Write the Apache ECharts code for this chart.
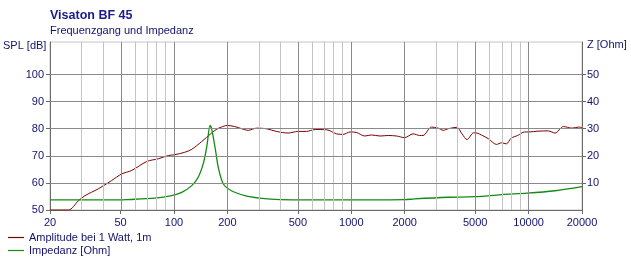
<!DOCTYPE html>
<html>
<head>
<meta charset="utf-8">
<script src="https://cdn.jsdelivr.net/npm/echarts@6/dist/echarts.min.js"></script>
<style>html,body{margin:0;padding:0;background:#fff}#c{width:631px;height:263px}</style>
</head>
<body>
<div id="c"></div>
<script>
// ---- data ----
const freqSPL = [20, 25.4, 28.9, 31.5, 37.4, 44.6, 50.7, 57.8, 70.2, 81.6, 93, 101, 115, 126, 143, 163, 173, 185, 200, 220, 241, 262, 292, 332, 378, 440, 500, 558, 626, 726, 826, 900, 986, 1072, 1192, 1302, 1452, 1616, 1802, 2000, 2230, 2432, 2538, 2834, 3090, 3300, 3526, 3938, 4210, 4496, 4896, 5000, 5560, 5932, 6596, 7026, 7486, 7972, 8672, 9500, 10000, 11300, 12920, 14100, 15720, 17560, 19120, 20000];
const splDb = [50, 50, 53.4, 55.3, 57.8, 60.9, 63.3, 64.6, 67.9, 68.9, 70.1, 70.4, 71.3, 72.4, 75.2, 78.4, 79.7, 80.6, 81.2, 80.8, 80, 79.4, 80.2, 80, 79, 78.4, 79, 79, 79.7, 79.6, 78.1, 77.9, 78.8, 78.6, 77.3, 77.7, 77.3, 77.5, 77.3, 76.7, 78.1, 77.5, 77.5, 80.6, 80.2, 79.4, 80, 80.5, 78.1, 76, 78.5, 78.5, 77.3, 76.3, 74.2, 74.8, 74.4, 76.5, 77.5, 78.8, 78.8, 79.1, 79.2, 78.4, 80.8, 80.2, 80.6, 80.4];
const freqZ = [20, 50, 53, 78, 97, 110.6, 126, 137, 147, 153.5, 159.8, 163, 171, 178.5, 190, 211, 251, 303, 397, 600, 1000, 2000, 2278, 3526, 5000, 7026, 9800, 14100, 20000];
const impedanceOhm = [3.7, 3.7, 3.8, 4.4, 5.3, 6.5, 9.0, 12.1, 17.6, 23.8, 31.2, 30, 22.6, 15.2, 9.6, 7.1, 5.3, 4.4, 3.8, 3.7, 3.7, 3.8, 4.1, 4.7, 4.9, 5.7, 6.2, 7.1, 8.6];
const xTickLabels = [20, 50, 100, 200, 500, 1000, 2000, 5000, 10000, 20000];
const majorGridFreqs = [50, 100, 200, 500, 1000, 2000, 5000, 10000];
const minorGridFreqs = [30, 40, 60, 70, 80, 90, 300, 400, 600, 700, 800, 900, 3000, 4000, 6000, 7000, 8000, 9000];
const splTickLabels = [50, 60, 70, 80, 90, 100];
const zTickLabels = [10, 20, 30, 40, 50];
const majorGridDb = [60, 70, 80, 90, 100];

const NAVY = '#12126e';
const FONT = 'Liberation Sans';
const lg = Math.log10;

const chart = echarts.init(document.getElementById('c'), null, {renderer: 'canvas'});
const vLines = minorGridFreqs.map(f => ({xAxis: lg(f), lineStyle: {color: '#c4c4c4', width: 1, type: 'solid'}}))
  .concat(majorGridFreqs.map(f => ({xAxis: lg(f), lineStyle: {color: '#8a8a8a', width: 1, type: 'solid'}})))
  .concat(majorGridDb.map(v => ({yAxis: v, lineStyle: {color: '#8a8a8a', width: 1, type: 'solid'}})));

chart.setOption({
  animation: false,
  backgroundColor: '#fff',
  textStyle: {fontFamily: FONT},
  title: {
    text: 'Visaton BF 45', subtext: 'Frequenzgang und Impedanz',
    left: 50, top: 9, itemGap: 3, padding: 0,
    textStyle: {fontFamily: FONT, fontSize: 12.5, fontWeight: 'bold', color: '#1a1a8a'},
    subtextStyle: {fontFamily: FONT, fontSize: 11, color: NAVY}
  },
  graphic: [
    {type: 'text', left: 3, top: 40, style: {text: 'SPL [dB]', font: '11px "Liberation Sans"', fill: NAVY}},
    {type: 'text', left: 587, top: 39, style: {text: 'Z [Ohm]', font: '11px "Liberation Sans"', fill: NAVY}}
  ],
  legend: {
    orient: 'vertical', left: 8, top: 232, itemGap: 2, padding: 0,
    icon: 'rect', itemWidth: 16, itemHeight: 1.2,
    textStyle: {fontFamily: FONT, fontSize: 11, color: NAVY, padding: [0, 0, 0, 0]},
    data: ['Amplitude bei 1 Watt, 1m', 'Impedanz [Ohm]']
  },
  grid: {left: 50, right: 49, top: 42, bottom: 53, containLabel: false, outerBoundsMode: 'none',
    show: true, borderColor: '#c4c4c4', borderWidth: 1},
  xAxis: {
    type: 'value', min: lg(20), max: lg(20000),
    splitLine: {show: false},
    axisLine: {show: true, onZero: false, lineStyle: {color: '#6a6a6a'}},
    axisTick: {show: true, length: 4, customValues: xTickLabels.map(lg), lineStyle: {color: '#6a6a6a'}},
    axisLabel: {customValues: xTickLabels.map(lg), margin: 7, fontSize: 11, fontFamily: FONT, color: NAVY,
      formatter: v => String(Math.round(Math.pow(10, v)))}
  },
  yAxis: [{
    type: 'value', min: 50, max: 112, interval: 2, position: 'left',
    axisLine: {show: true, lineStyle: {color: '#6a6a6a'}},
    axisTick: {show: true, length: 4, customValues: splTickLabels, lineStyle: {color: '#6a6a6a'}},
    axisLabel: {customValues: splTickLabels, margin: 6, fontSize: 11, fontFamily: FONT, color: NAVY},
    splitLine: {show: true, lineStyle: {color: '#c4c4c4', width: 1}}
  }, {
    type: 'value', min: 0, max: 62, interval: 2, position: 'right',
    axisLine: {show: true, lineStyle: {color: '#6a6a6a'}},
    axisTick: {show: true, length: 4, customValues: zTickLabels, lineStyle: {color: '#6a6a6a'}},
    axisLabel: {customValues: zTickLabels, margin: 5, fontSize: 11, fontFamily: FONT, color: NAVY},
    splitLine: {show: false}
  }],
  series: [{
    type: 'line', name: 'grid', data: [], z: 1, silent: true,
    markLine: {silent: true, symbol: 'none', label: {show: false}, animation: false, data: vLines}
  }, {
    type: 'line', name: 'Amplitude bei 1 Watt, 1m', yAxisIndex: 0, z: 3,
    showSymbol: false, symbol: 'none', smooth: 0.3,
    lineStyle: {color: '#7a0000', width: 1}, itemStyle: {color: '#7a0000'},
    data: freqSPL.map((f, i) => [lg(f), splDb[i]])
  }, {
    type: 'line', name: 'Impedanz [Ohm]', yAxisIndex: 1, z: 4,
    showSymbol: false, symbol: 'none', smooth: 0.3,
    lineStyle: {color: '#138a13', width: 1.3}, itemStyle: {color: '#138a13'},
    data: freqZ.map((f, i) => [lg(f), impedanceOhm[i]])
  }]
});
</script>
</body>
</html>
